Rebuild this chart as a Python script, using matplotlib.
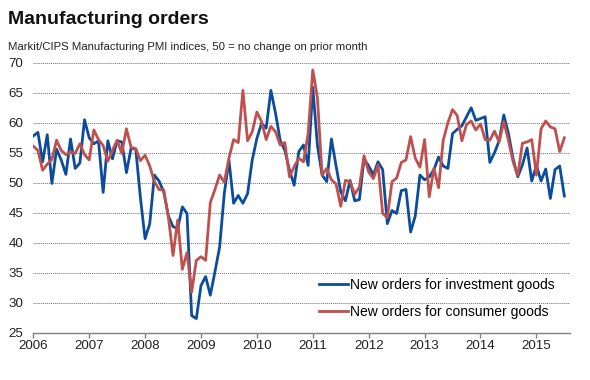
import numpy as np
import matplotlib
matplotlib.use("Agg")
import matplotlib.pyplot as plt

plt.rcParams["font.family"] = ["Liberation Sans", "DejaVu Sans"]

# --- Data: monthly PMI new orders, Jan 2006 - Jul 2015 ---
start_year = 2006
investment = [
    57.8, 58.4, 53.5, 58.0, 49.9, 55.6, 53.8, 51.4, 57.3, 52.4, 53.3, 60.5,
    57.5, 56.5, 57.0, 48.4, 57.0, 54.0, 57.0, 56.8, 51.7, 55.8, 55.6, 47.5,
    40.7, 43.2, 51.3, 50.3, 48.5, 44.5, 42.7, 42.4, 46.0, 44.9, 27.9, 27.4,
    32.9, 34.4, 31.3, 35.2, 39.3, 48.2, 53.8, 46.6, 47.9, 46.6, 48.2, 53.8,
    57.4, 59.9, 59.1, 65.4, 61.6, 57.1, 55.4, 52.1, 49.6, 55.2, 56.3, 52.9,
    65.9, 56.2, 51.3, 50.2, 57.3, 52.8, 48.5, 47.0, 50.4, 47.0, 47.2, 54.0,
    52.8, 51.3, 53.5, 52.2, 43.2, 45.4, 44.9, 48.7, 48.9, 41.8, 44.5, 51.3,
    50.5, 51.0, 52.2, 54.3, 52.8, 52.4, 58.2, 58.9, 59.5, 61.0, 62.5, 60.4,
    60.7, 61.0, 53.4, 55.0, 57.0, 61.3, 58.2, 54.0, 51.0, 53.0, 55.8, 50.3,
    52.9, 50.3, 52.3, 47.4, 52.2, 52.8, 47.8,
]
consumer = [
    56.1, 55.4, 52.1, 53.1, 53.9, 57.1, 55.4, 54.7, 55.1, 54.9, 56.5, 54.7,
    53.8, 58.8, 57.2, 56.2, 53.6, 55.4, 57.1, 54.9, 59.0, 55.9, 55.7, 53.7,
    54.6, 52.8, 50.2, 48.9, 48.8, 44.3, 37.9, 43.8, 35.6, 38.4, 31.8, 37.1,
    37.7, 37.1, 46.7, 48.9, 51.3, 50.1, 54.1, 57.2, 56.7, 65.4, 57.0, 58.5,
    61.8, 60.2, 57.2, 59.4, 58.5, 56.3, 56.7, 51.0, 52.7, 54.1, 53.5, 58.2,
    68.8, 64.1, 51.3, 52.4, 50.5, 49.8, 46.1, 50.4, 50.2, 48.1, 49.3, 54.5,
    51.8, 50.7, 53.0, 44.9, 44.2, 50.2, 50.8, 53.4, 53.8, 57.7, 54.1, 52.6,
    57.2, 47.7, 52.4, 49.2, 57.1, 60.0, 62.2, 61.2, 57.0, 59.7, 60.3, 58.8,
    59.8, 57.2, 57.1, 58.6, 56.8, 60.2, 57.1, 53.5, 51.2, 56.6, 56.8, 57.2,
    51.3, 59.0, 60.3, 59.3, 59.0, 55.2, 57.5,
]
year_ticks = list(range(2006, 2016))
y_ticks = [25, 30, 35, 40, 45, 50, 55, 60, 65, 70]

dates = start_year + np.arange(len(investment)) / 12.0

# --- Plot ---
fig = plt.figure(figsize=(5.9, 3.8), dpi=100)
ax = fig.add_axes([0.0564, 0.1237, 0.9096, 0.7113])

ax.plot(dates, investment, color="#0B4C9C", linewidth=2.0,
        label="New orders for investment goods", zorder=3)
ax.plot(dates, consumer, color="#C0504D", linewidth=2.0,
        label="New orders for consumer goods", zorder=4)

ax.set_xlim(2006, 2015.6)
ax.set_ylim(25, 70)
ax.set_yticks(y_ticks)
ax.set_xticks(year_ticks)
ax.set_xticklabels([str(y) for y in year_ticks])

for v in y_ticks[1:]:
    ax.axhline(v, color="#707070", linewidth=0.7, linestyle=(0, (1, 1)), zorder=1)

for side in ["top", "right", "left"]:
    ax.spines[side].set_visible(False)
ax.spines["bottom"].set_color("#808080")
ax.spines["bottom"].set_linewidth(1.0)

ax.tick_params(axis="y", length=0, pad=7, labelsize=9.6, colors="#222222")
ax.tick_params(axis="x", length=3.5, width=1.0, color="#808080", pad=1.5,
               labelsize=9.6, labelcolor="#222222")

leg = ax.legend(loc="lower left", bbox_to_anchor=(0.522, 0.03), frameon=False,
                fontsize=10, handlelength=2.1, handletextpad=0.15,
                labelspacing=0.95, borderaxespad=0)

fig.text(0.0136, 0.972, "Manufacturing orders", fontsize=14, fontweight="bold",
         ha="left", va="top", color="#111111")
fig.text(0.0136, 0.876, "Markit/CIPS Manufacturing PMI indices, 50 = no change on prior month",
         fontsize=8.2, ha="left", va="center", color="#222222")

plt.savefig("out.png", dpi=100)
